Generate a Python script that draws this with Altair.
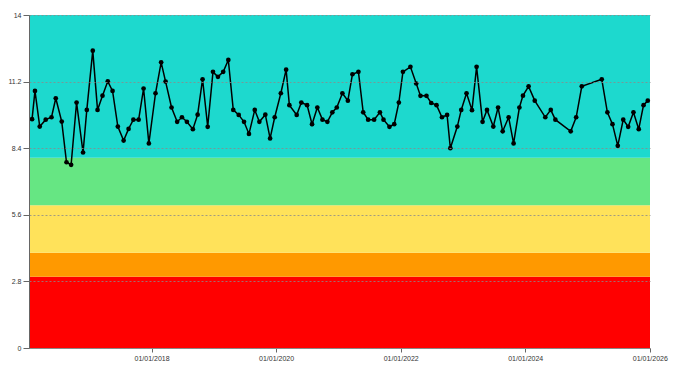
import altair as alt
import pandas as pd

dates = [
    "2016-01-31", "2016-02-17", "2016-03-16", "2016-04-20", "2016-05-24", "2016-06-18",
    "2016-07-23", "2016-08-20", "2016-09-16", "2016-10-18", "2016-11-25", "2016-12-17",
    "2017-01-21", "2017-02-18", "2017-03-19", "2017-04-19", "2017-05-17", "2017-06-17",
    "2017-07-21", "2017-08-19", "2017-09-16", "2017-10-17", "2017-11-15", "2017-12-16",
    "2018-01-24", "2018-02-26", "2018-03-24", "2018-04-28", "2018-05-31", "2018-06-28",
    "2018-07-27", "2018-08-31", "2018-09-28", "2018-10-27", "2018-11-26", "2018-12-27",
    "2019-01-25", "2019-02-25", "2019-03-27", "2019-04-25", "2019-05-27", "2019-06-27",
    "2019-07-26", "2019-08-29", "2019-09-25", "2019-10-30", "2019-11-27", "2019-12-24",
    "2020-01-29", "2020-02-29", "2020-03-19", "2020-05-01", "2020-05-28", "2020-07-01",
    "2020-07-30", "2020-08-30", "2020-09-29", "2020-10-28", "2020-11-26", "2020-12-22",
    "2021-01-24", "2021-02-25", "2021-03-24", "2021-04-28", "2021-05-26", "2021-06-24",
    "2021-07-29", "2021-09-01", "2021-09-22", "2021-10-27", "2021-11-24", "2021-12-21",
    "2022-01-14", "2022-02-27", "2022-04-02", "2022-04-27", "2022-06-01", "2022-06-29",
    "2022-07-30", "2022-08-31", "2022-09-30", "2022-10-19", "2022-11-29", "2022-12-22",
    "2023-01-22", "2023-02-23", "2023-03-22", "2023-04-26", "2023-05-22", "2023-06-28",
    "2023-07-26", "2023-08-22", "2023-09-26", "2023-10-25", "2023-11-28", "2023-12-19",
    "2024-01-21", "2024-02-26", "2024-04-28", "2024-05-30", "2024-06-26", "2024-09-24",
    "2024-10-26", "2024-11-28", "2025-03-25", "2025-04-27", "2025-05-27", "2025-06-27",
    "2025-07-29", "2025-08-27", "2025-09-27", "2025-10-28", "2025-11-25", "2025-12-20",
]
values = [
    9.62, 10.81, 9.31, 9.60, 9.70, 10.50,
    9.52, 7.81, 7.70, 10.32, 8.22, 10.01,
    12.50, 10.01, 10.61, 11.21, 10.81, 9.31,
    8.72, 9.21, 9.60, 9.60, 10.91, 8.60,
    10.71, 12.01, 11.20, 10.11, 9.51, 9.70,
    9.51, 9.20, 9.81, 11.30, 9.30, 11.61,
    11.40, 11.61, 12.11, 10.01, 9.80, 9.51,
    9.00, 10.01, 9.51, 9.81, 8.81, 9.70,
    10.71, 11.70, 10.21, 9.80, 10.32, 10.21,
    9.41, 10.11, 9.60, 9.51, 9.91, 10.11,
    10.71, 10.40, 11.51, 11.61, 9.91, 9.60,
    9.60, 9.91, 9.60, 9.30, 9.41, 10.32,
    11.61, 11.82, 11.12, 10.60, 10.60, 10.30,
    10.21, 9.70, 9.80, 8.40, 9.31, 10.01,
    10.71, 10.00, 11.82, 9.51, 10.01, 9.31,
    10.11, 9.11, 9.70, 8.60, 10.11, 10.61,
    11.00, 10.40, 9.70, 10.01, 9.60, 9.11,
    9.70, 11.00, 11.30, 9.91, 9.41, 8.50,
    9.60, 9.30, 9.91, 9.20, 10.21, 10.40,
]

# Background bands
band_lo = [0, 3, 4, 6, 8]
band_hi = [3, 4, 6, 8, 14]
band_colors = ["#ff0000", "#ff9900", "#ffe25a", "#66e683", "#1dd9ce"]

# Axis ticks
y_ticks = [0, 2.8, 5.6, 8.4, 11.2, 14]
x_tick_years = [2018, 2020, 2022, 2024, 2026]

W, H = 621, 333

df = pd.DataFrame({"date": dates, "value": values})
bands = pd.DataFrame({"lo": band_lo, "hi": band_hi, "color": band_colors})

yscale = alt.Scale(domain=[0, 14], nice=False, zero=True)
yaxis = alt.Axis(
    values=y_ticks, title=None, labelExpr="'' + datum.value",
    grid=True, gridColor="#8a8a8a", gridDash=[2, 2], gridWidth=0.8,
    domainColor="#666", tickColor="#666", tickSize=6,
    labelFontSize=7, labelColor="#333", labelFont="Liberation Sans",
    labelPadding=2, zindex=1,
)
xaxis = alt.Axis(
    values=[alt.DateTime(year=y, month=1, date=1, utc=True) for y in x_tick_years],
    format="%d/%m/%Y", title=None, grid=False,
    domainColor="#888", tickColor="#666", tickSize=4,
    labelFontSize=7, labelColor="#333", labelFont="Liberation Sans",
    labelPadding=2, labelFlush=False,
)

rects = alt.Chart(bands).mark_rect().encode(
    x=alt.value(0), x2=alt.value(W),
    y=alt.Y("lo:Q", scale=yscale, axis=yaxis),
    y2="hi:Q",
    color=alt.Color("color:N", scale=None),
)

line = alt.Chart(df).mark_line(
    color="black", strokeWidth=1.5,
    point=alt.OverlayMarkDef(filled=True, color="black", size=22, opacity=1),
).encode(
    x=alt.X("date:T", scale=alt.Scale(type="utc", domain=["2016-01-13", "2026-01-02"]), axis=xaxis),
    y=alt.Y("value:Q", scale=yscale, axis=yaxis),
)

chart = alt.layer(rects, line).properties(
    width=W, height=H,
    autosize=alt.AutoSizeParams(type="none"),
    padding={"left": 21, "top": 7, "right": 24, "bottom": 25},
).configure_view(strokeWidth=0)

chart.save("out.html", embed_options={"renderer": "svg", "actions": False})
